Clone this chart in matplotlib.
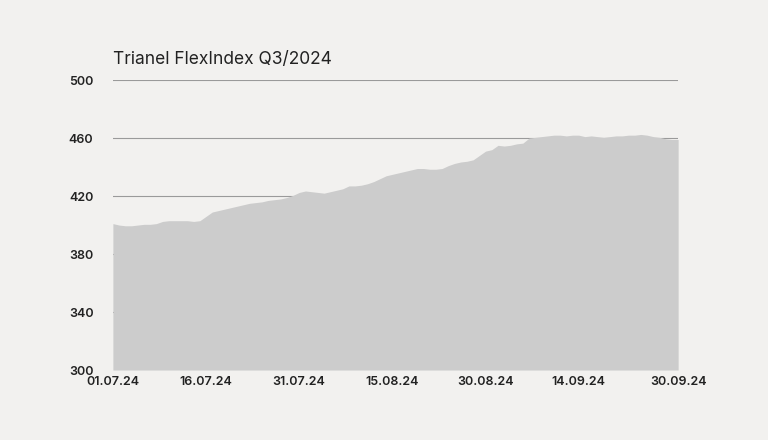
import matplotlib.pyplot as plt
import numpy as np
import pandas as pd

july = [401, 400, 399.5, 399.5, 400, 400.5, 400.5, 401, 402.5, 403,
        403, 403, 403, 402.5, 403, 406, 409, 410, 411, 412,
        413, 414, 415, 415.5, 416, 417, 417.5, 418, 419, 420.5, 422.5]
august = [423.5, 423, 422.5, 422, 423, 424, 425, 427, 427, 427.5,
          428.5, 430, 432, 434, 435, 436, 437, 438, 439, 439,
          438.5, 438.5, 439, 441, 442.5, 443.5, 444, 445, 448, 451, 452]
september = [455, 454.5, 455, 456, 456.5, 460, 460.5, 461, 461.5, 462,
             462, 461.5, 462, 462, 461, 461.5, 461, 460.5, 461, 461.5,
             461.5, 462, 462, 462.5, 462, 461, 460.5, 459.5, 459, 459]
values = july + august + september
dates = pd.date_range("2024-07-01", "2024-09-30", freq="D")
tick_dates = ["01.07.24", "16.07.24", "31.07.24", "15.08.24", "30.08.24", "14.09.24", "30.09.24"]
y_ticks = [300, 340, 380, 420, 460, 500]

bg = "#f2f1ef"
plt.rcParams['font.family'] = ['Inter', 'DejaVu Sans']
fig = plt.figure(figsize=(7.68, 4.4), dpi=100, facecolor=bg)
ax = fig.add_axes([0.147, 0.159, 0.736, 0.659], facecolor=bg)

x = np.arange(len(values))
for yt in y_ticks[1:]:
    ax.axhline(yt, color="#9a9a9a", lw=0.8, zorder=1)
ax.fill_between(x, 300, values, color="#cccccc", lw=0, zorder=2)

ax.set_xlim(0, len(values) - 1)
ax.set_ylim(300, 500)
ax.set_yticks(y_ticks)
ax.set_yticklabels([str(v) for v in y_ticks], fontsize=9, fontweight="semibold", color="#222222")
tick_pos = [list(dates.strftime("%d.%m.%y")).index(t) for t in tick_dates]
ax.set_xticks(tick_pos)
ax.set_xticklabels(tick_dates, fontsize=9, fontweight="semibold", color="#222222")
ax.tick_params(length=0, pad=4)
ax.tick_params(axis="y", pad=14)
for s in ax.spines.values():
    s.set_visible(False)

fig.text(0.147, 0.855, "Trianel FlexIndex Q3/2024", fontsize=12.5, color="#222222")
fig.savefig("out.png", facecolor=bg)
